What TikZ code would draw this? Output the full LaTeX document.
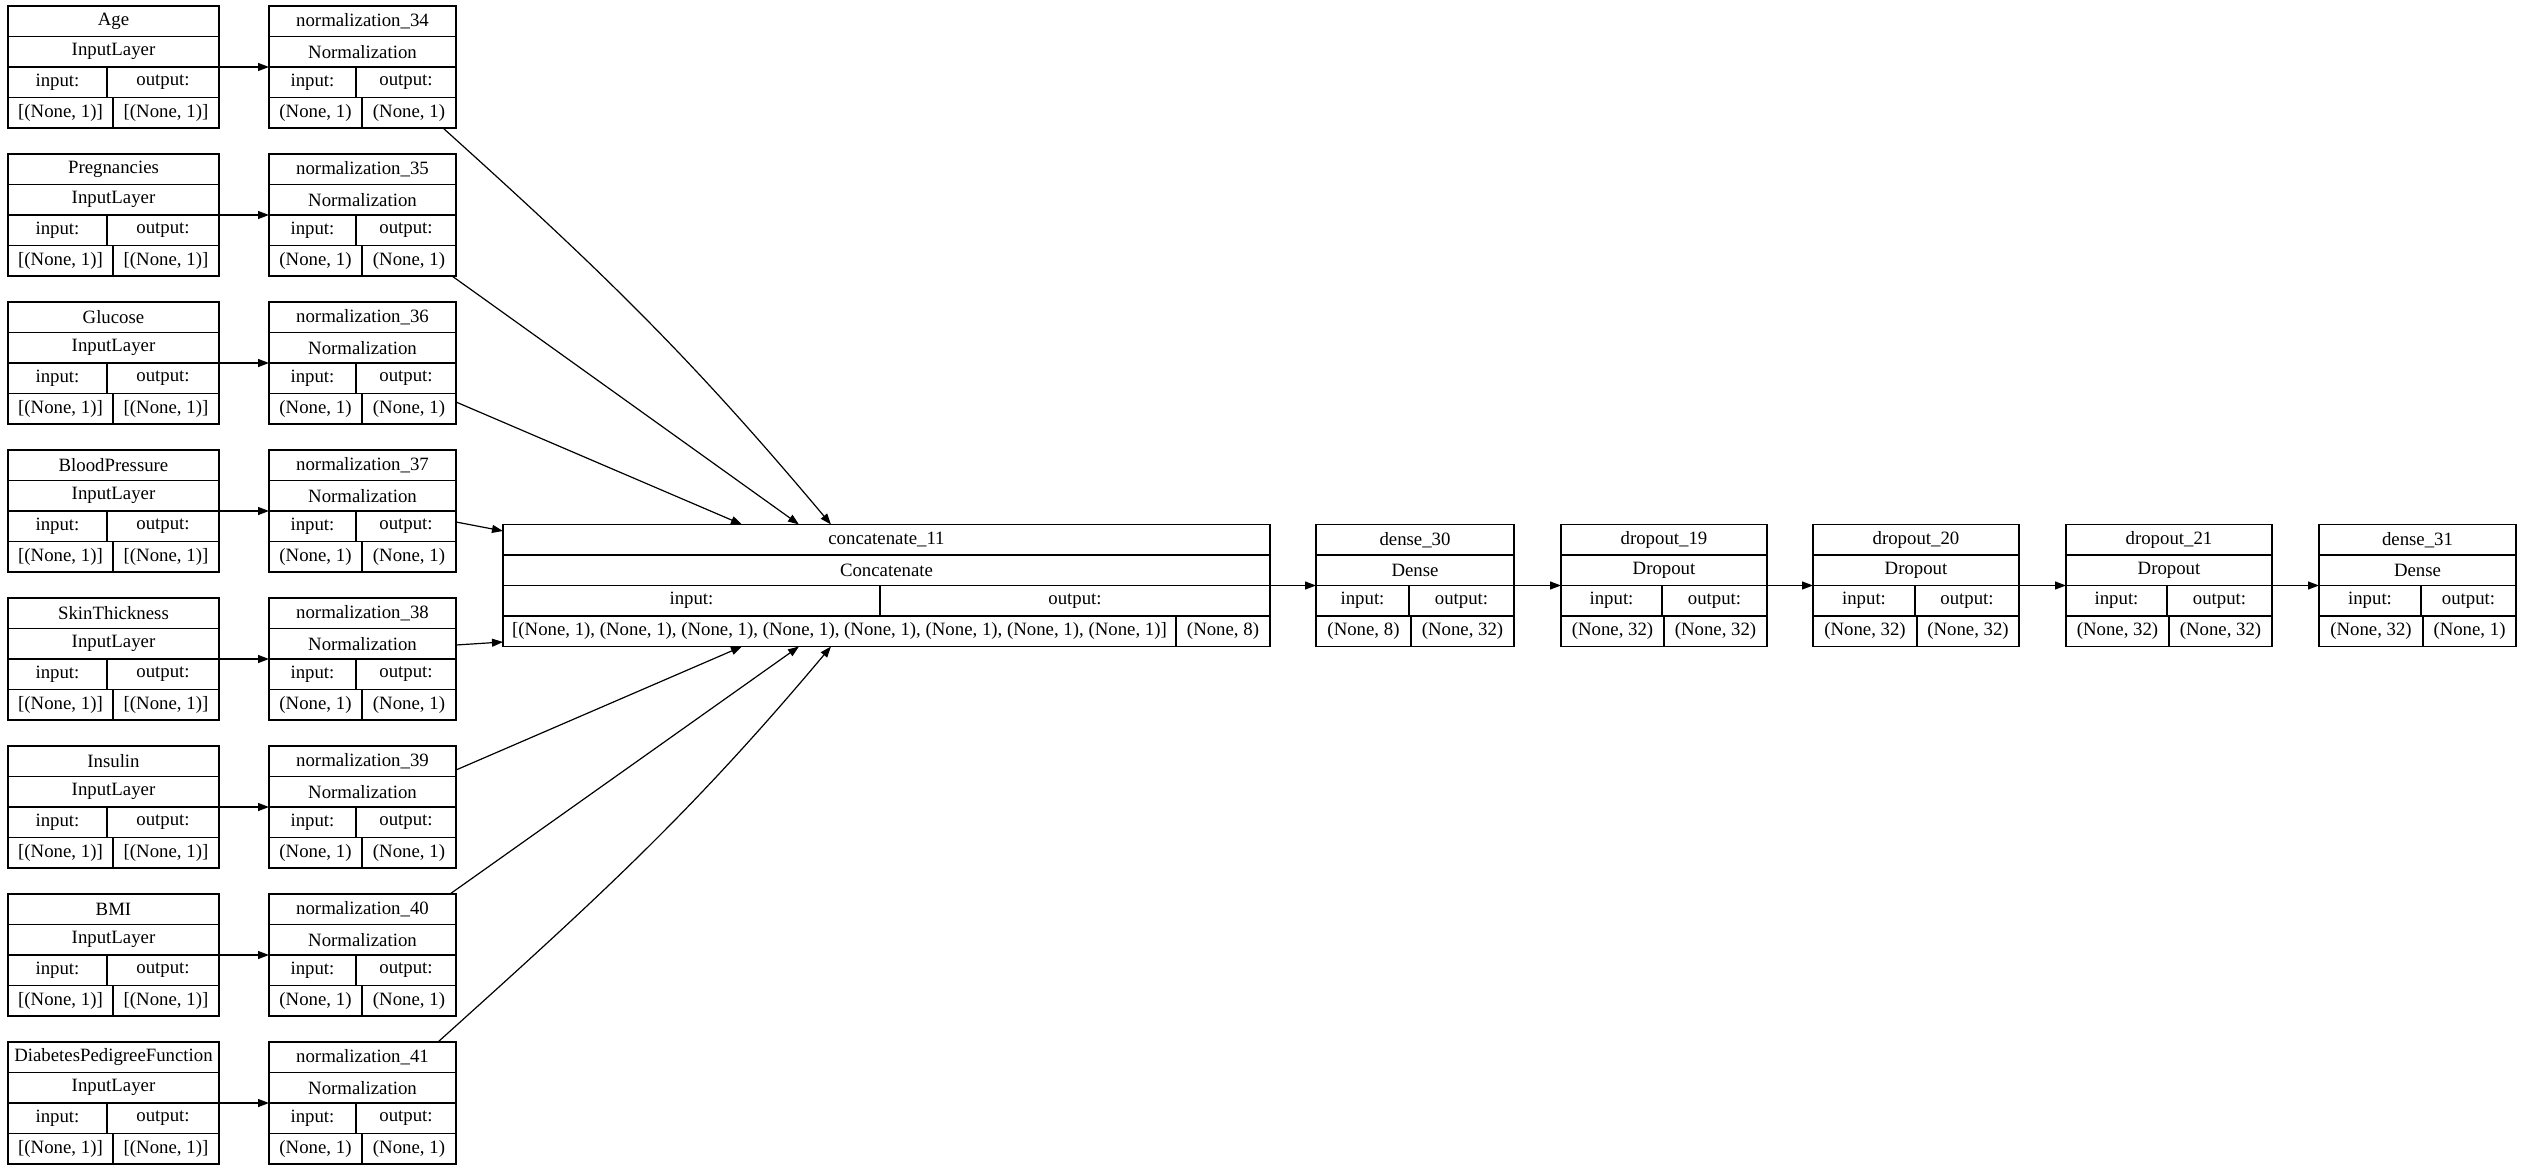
\documentclass[tikz,border=0pt]{standalone}
\usepackage{fontspec}
\setmainfont{Liberation Serif}
\usetikzlibrary{arrows.meta,fit}
\tikzset{
  ln/.style={line width=0.6pt},
  arr/.style={ln,-{Triangle[length=5.5pt,width=4pt]}},
  txt/.style={inner sep=0pt,font=\fontsize{9.4pt}{11pt}\selectfont},
  boxn/.style={draw,ln,inner sep=0pt}
}
% #1 name #2 x1 #3 x2 #4 y1 #5 split row3 #6 split row4 #7 title #8 type #9 input
\newcommand\lbox[9]{\def\lbA{#1}\def\lbB{#2}\def\lbC{#3}\def\lbD{#4}\def\lbE{#5}\def\lbF{#6}\def\lbG{#7}\def\lbH{#8}\def\lbI{#9}\lboxrest}
\newcommand\lboxrest[1]{%
  \node[boxn,fit={(\lbB,\lbD) (\lbC,{\lbD+122})}] (\lbA) {};
  \draw[ln] (\lbB,{\lbD+30.5}) -- (\lbC,{\lbD+30.5});
  \draw[ln] (\lbB,{\lbD+61}) -- (\lbC,{\lbD+61});
  \draw[ln] (\lbB,{\lbD+91.5}) -- (\lbC,{\lbD+91.5});
  \draw[ln] (\lbE,{\lbD+61}) -- (\lbE,{\lbD+91.5});
  \draw[ln] (\lbF,{\lbD+91.5}) -- (\lbF,{\lbD+122});
  \node[txt] (\lbA-t) at ({(\lbB+\lbC)/2},{\lbD+15.25}) {\lbG};
  \node[txt] (\lbA-c) at ({(\lbB+\lbC)/2},{\lbD+45.75}) {\lbH};
  \node[txt] (\lbA-i) at ({(\lbB+\lbE)/2},{\lbD+76.25}) {input:};
  \node[txt] (\lbA-o) at ({(\lbE+\lbC)/2},{\lbD+76.25}) {output:};
  \node[txt] (\lbA-a) at ({(\lbB+\lbF)/2},{\lbD+106.75}) {\lbI};
  \node[txt] (\lbA-b) at ({(\lbF+\lbC)/2},{\lbD+106.75}) {#1};
}
\begin{document}
\begin{tikzpicture}[x=0.5pt,y=-0.5pt]
\useasboundingbox (0,0) rectangle (2523,1171);
\foreach \nm/\num [count=\i from 0] in {Age/34,Pregnancies/35,Glucose/36,BloodPressure/37,SkinThickness/38,Insulin/39,BMI/40,DiabetesPedigreeFunction/41}{
  \pgfmathsetmacro\yy{6+148*\i}
  \lbox{in\i}{8}{219}{\yy}{107}{113}{\nm}{InputLayer}{[(None, 1)]}{[(None, 1)]}
  \lbox{n\i}{269}{456}{\yy}{356}{362}{normalization\_\num}{Normalization}{(None, 1)}{(None, 1)}
  \coordinate (s\i) at (219,{\yy+61});
  \coordinate (e\i) at (269,{\yy+61});
  \draw[arr] (s\i) -- (e\i);
}
\lbox{cc}{503}{1270}{524.5}{880}{1176}{concatenate\_11}{Concatenate}{[(None, 1), (None, 1), (None, 1), (None, 1), (None, 1), (None, 1), (None, 1), (None, 1)]}{(None, 8)}
\lbox{d30}{1316}{1514}{524.5}{1409}{1411}{dense\_30}{Dense}{(None, 8)}{(None, 32)}
\lbox{dr19}{1561}{1767}{524.5}{1662}{1664}{dropout\_19}{Dropout}{(None, 32)}{(None, 32)}
\lbox{dr20}{1813}{2019}{524.5}{1915}{1917}{dropout\_20}{Dropout}{(None, 32)}{(None, 32)}
\lbox{dr21}{2066}{2272}{524.5}{2167}{2169}{dropout\_21}{Dropout}{(None, 32)}{(None, 32)}
\lbox{d31}{2319}{2516}{524.5}{2421}{2423}{dense\_31}{Dense}{(None, 32)}{(None, 1)}
% norm -> concat
\coordinate (t0) at (831,524.5);
\coordinate (t1) at (799,524.5);
\coordinate (t2) at (742,524.5);
\coordinate (t3) at (503,531);
\coordinate (t4) at (503,642);
\coordinate (t5) at (742,646.5);
\coordinate (t6) at (799,646.5);
\coordinate (t7) at (831,646.5);
\draw[arr] (443,128) to[out=-42,in=130] (t0);
\draw[arr] (452,276) -- (t1);
\draw[arr] (456,402) -- (t2);
\draw[arr] (456,522) -- (t3);
\draw[arr] (456,645) -- (t4);
\draw[arr] (456,770) -- (t5);
\draw[arr] (450,894) -- (t6);
\draw[arr] (438,1042) to[out=42,in=-130] (t7);
% chain
\foreach \a/\b/\xa/\xb in {cc/d30/1270/1316,d30/dr19/1514/1561,dr19/dr20/1767/1813,dr20/dr21/2019/2066,dr21/d31/2272/2319}{
  \coordinate (\a-r) at (\xa,585.5);
  \coordinate (\b-l) at (\xb,585.5);
  \draw[arr] (\a-r) -- (\b-l);
}
\end{tikzpicture}
\end{document}
